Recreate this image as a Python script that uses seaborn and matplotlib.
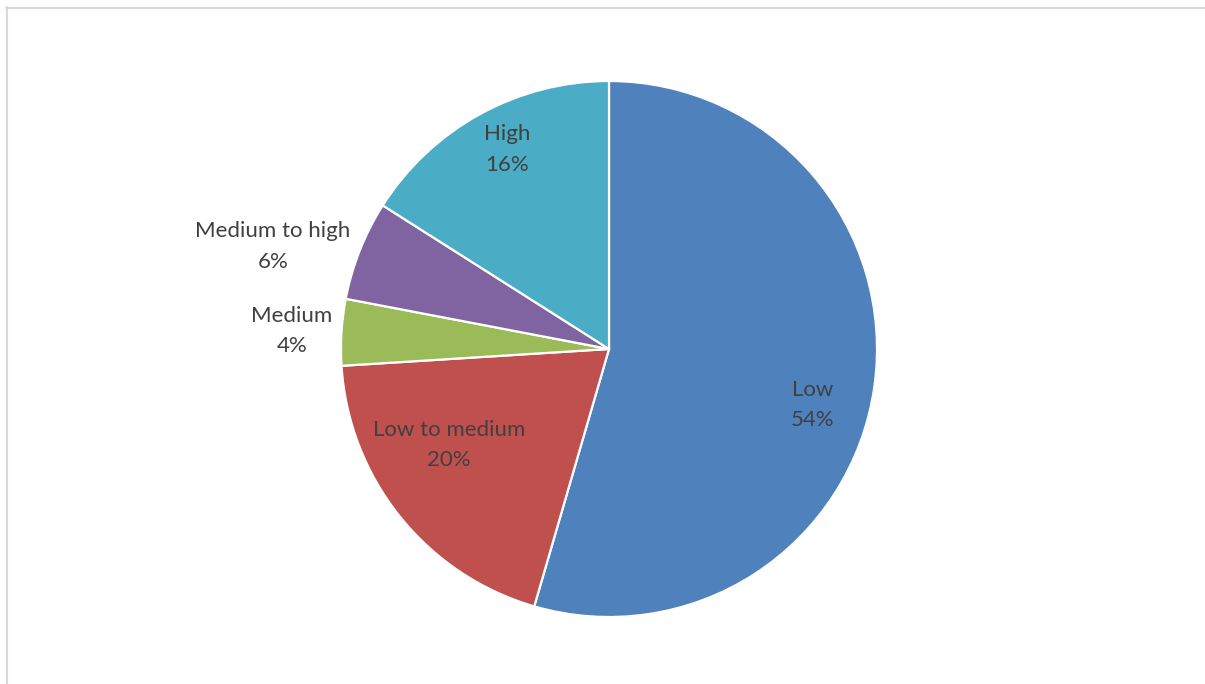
import matplotlib
matplotlib.use("Agg")
import seaborn as sns
from matplotlib import pyplot as plt
from matplotlib.lines import Line2D

# parts du camembert (sens horaire depuis midi)
categories = ['Low', 'Low to medium', 'Medium', 'Medium to high', 'High']
shares = [54.5, 19.5, 4.0, 6.0, 16.0]
pct_labels = ['54%', '20%', '4%', '6%', '16%']

colors = sns.color_palette(['#4F81BD', '#C0504D', '#9BBB59', '#8064A2', '#4BACC6'])

# position des etiquettes en unites de rayon (centre du bloc de texte)
label_pos = [(0.761, -0.209), (-0.597, -0.358), (-1.183, 0.067), (-1.254, 0.381), (-0.381, 0.746)]

sns.set_theme(style="white")
plt.rcParams['font.family'] = ['Lato', 'DejaVu Sans']

W, H = 1205, 684
cx, cy, R = 609, 349, 268  # centre et rayon en pixels

fig = plt.figure(figsize=(W / 100, H / 100), dpi=100)
ax = fig.add_axes([0, 0, 1, 1])

ax.pie(shares, colors=colors, startangle=90, counterclock=False, radius=1,
       wedgeprops=dict(edgecolor='white', linewidth=1.6))

for cat, pct, (lx, ly) in zip(categories, pct_labels, label_pos):
    ax.text(lx, ly, cat + '\n' + pct, ha='center', va='center', fontsize=16,
            color='#404040', linespacing=1.68)

ax.set_xlim(-cx / R, (W - cx) / R)
ax.set_ylim(-(H - cy) / R, cy / R)
ax.set_aspect('equal')
ax.axis('off')

# cadre gris de la zone de graphique (coupe a droite et en bas)
fig.add_artist(Line2D([6 / W, 1], [1 - 7.5 / H, 1 - 7.5 / H], color='#d9d9d9', linewidth=1.5))
fig.add_artist(Line2D([7 / W, 7 / W], [0, 1 - 6.5 / H], color='#d9d9d9', linewidth=1.5))

plt.savefig('out.png', dpi=100, facecolor='white')
